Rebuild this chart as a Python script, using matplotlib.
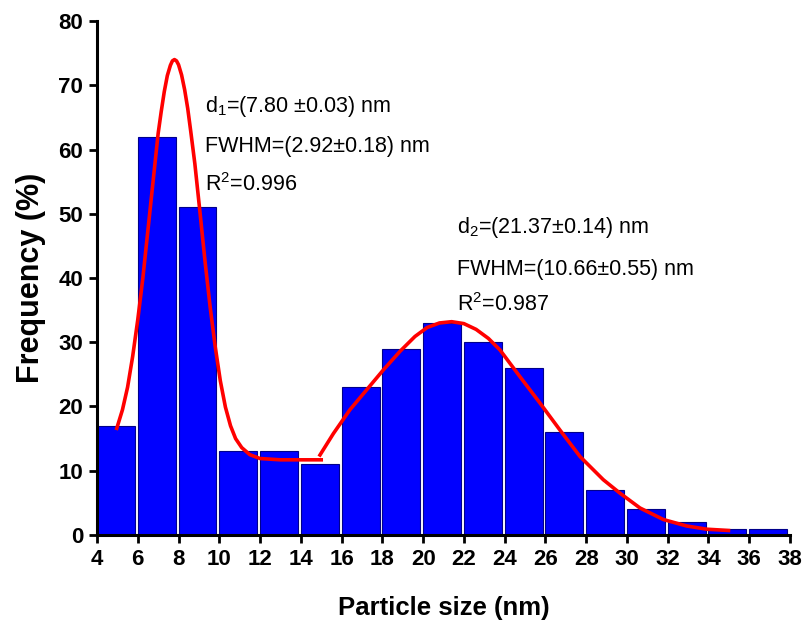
import numpy as np
import matplotlib
matplotlib.use('Agg')
import matplotlib.pyplot as plt

plt.rcParams['font.family'] = ['Liberation Sans', 'DejaVu Sans']

# histogram (bin left edges, width 2 nm)
bin_left = [4, 6, 8, 10, 12, 14, 16, 18, 20, 22, 24, 26, 28, 30, 32, 34, 36]
freq = [17, 62, 51, 13, 13, 11, 23, 29, 33, 30, 26, 16, 7, 4, 2, 1, 1]

# fitted curve 1
fit1_x = [4.97, 5.25, 5.5, 5.75, 6.0, 6.25, 6.5, 6.75, 7.0, 7.15, 7.3, 7.45, 7.6,
          7.7, 7.8, 7.9, 8.0, 8.15, 8.3, 8.45, 8.6, 8.8, 9.05, 9.3, 9.55, 9.8,
          10.05, 10.3, 10.55, 10.8, 11.1, 11.5, 12.0, 13.0, 15.0]
fit1_y = [16.6, 19.5, 23.0, 27.8, 33.5, 40.0, 47.5, 55.0, 62.5, 65.9, 69.0, 71.5, 73.1,
          73.8, 74.0, 73.8, 73.2, 71.6, 69.3, 66.4, 62.8, 57.8, 50.3, 42.6, 35.5, 29.3,
          24.0, 19.9, 17.0, 15.0, 13.6, 12.5, 11.9, 11.7, 11.7]

# fitted curve 2
fit2_x = [14.94, 15.6, 16.41, 17.23, 18.05, 18.87, 19.6, 20.2, 20.8, 21.4, 22.0,
          22.6, 23.2, 23.77, 24.76, 25.74, 26.72, 27.7, 28.84, 29.66, 30.64,
          31.79, 32.93, 33.92, 34.98]
fit2_y = [12.45, 15.8, 19.5, 22.6, 25.7, 28.6, 30.9, 32.3, 33.0, 33.2, 32.9,
          32.0, 30.6, 28.8, 24.6, 20.5, 16.3, 12.2, 8.6, 6.5, 4.2,
          2.4, 1.4, 0.9, 0.7]

xticks = list(range(4, 39, 2))
yticks = list(range(0, 81, 10))

fig = plt.figure(figsize=(8.05, 6.22), dpi=100)
ax = fig.add_axes([0.1205, 0.1399, 0.8609, 0.8263])

ax.bar(bin_left, freq, width=1.86, align='edge', color='#0000FF',
       edgecolor='#00008B', linewidth=0.8, zorder=2)
ax.plot(fit1_x, fit1_y, color='#FF0000', lw=2.6, solid_joinstyle='round', zorder=3)
ax.plot(fit2_x, fit2_y, color='#FF0000', lw=2.6, solid_joinstyle='round', zorder=3)

ax.set_xlim(4, 38)
ax.set_ylim(0, 80)
ax.set_xticks(xticks)
ax.set_yticks(yticks)
for s in ['top', 'right']:
    ax.spines[s].set_visible(False)
for s in ['left', 'bottom']:
    ax.spines[s].set_linewidth(2.2)
ax.tick_params(direction='out', length=6, width=2, labelsize=16, pad=4)
for lab in ax.get_xticklabels() + ax.get_yticklabels():
    lab.set_fontweight('bold')

ax.set_xlabel('Particle size (nm)', fontsize=18.5, fontweight='bold', labelpad=19)
ax.set_ylabel('Frequency (%)', fontsize=22, fontweight='bold', labelpad=9)

tk = dict(fontsize=15.5, va='baseline', ha='left')
ax.text(9.3, 65.8, r'd$_\mathregular{1}$=(7.80 ±0.03) nm', **tk)
ax.text(9.3, 59.6, 'FWHM=(2.92±0.18) nm', **tk)
ax.text(9.3, 53.5, r'R$^\mathregular{2}$=0.996', **tk)
ax.text(21.67, 47.0, r'd$_\mathregular{2}$=(21.37±0.14) nm', **tk)
ax.text(21.67, 40.4, 'FWHM=(10.66±0.55) nm', **tk)
ax.text(21.67, 34.9, r'R$^\mathregular{2}$=0.987', **tk)

fig.savefig('out.png', dpi=100)
